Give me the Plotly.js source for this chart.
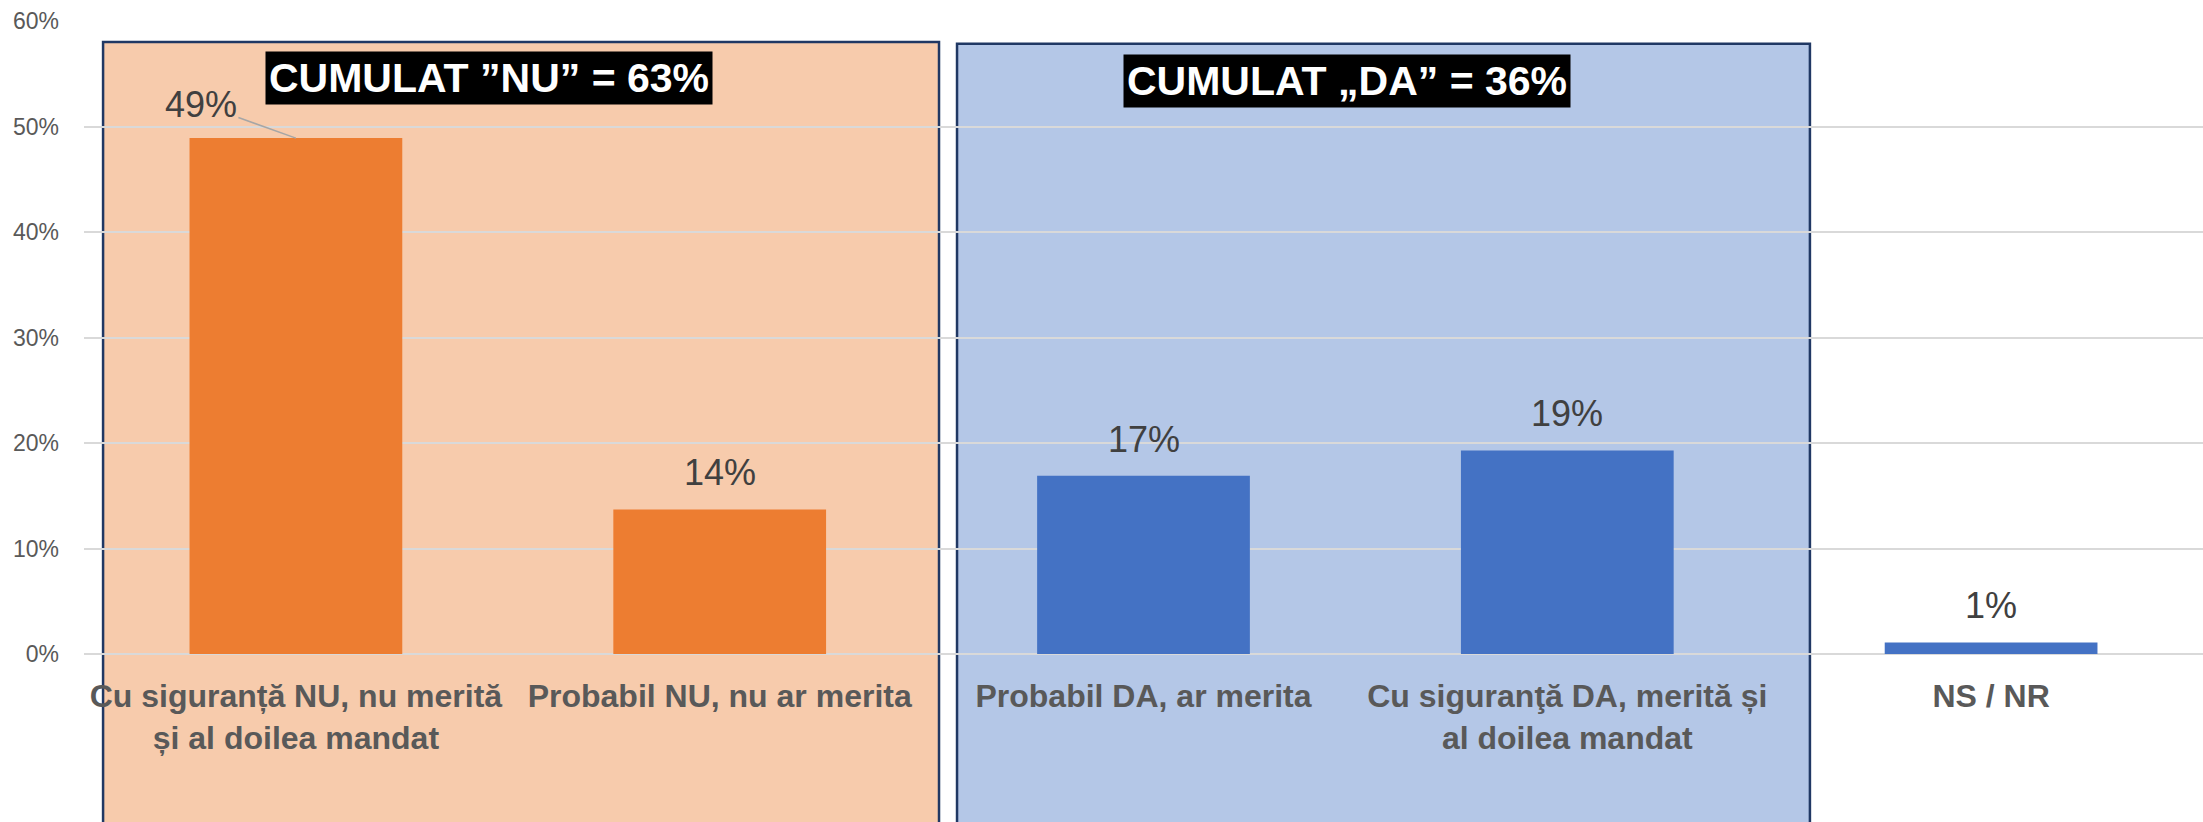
<!DOCTYPE html>
<html><head><meta charset="utf-8">
<script src="https://cdn.plot.ly/plotly-3.0.1.min.js"></script>
<style>html,body{margin:0;padding:0;background:#fff}</style>
</head><body>
<div id="chart" style="width:2203px;height:822px"></div>
<script>
// ---- data ----
const categories = [
  "Cu siguranță NU, nu merită<br>și al doilea mandat",
  "Probabil NU, nu ar merita",
  "Probabil DA, ar merita",
  "Cu siguranţă DA, merită și<br>al doilea mandat",
  "NS / NR"
];
const values = [48.9, 13.7, 16.9, 19.3, 1.1];
const valueLabels = ["49%", "14%", "17%", "19%", "1%"];
const yTickVals = [0, 10, 20, 30, 40, 50, 60];
const yTickText = ["0%", "10%", "20%", "30%", "40%", "50%", "60%"];
const cumulNoText = "CUMULAT ”NU” = 63%";
const cumulYesText = "CUMULAT „DA” = 36%";

// ---- style ----
const FONT = "'Liberation Sans', Arial, sans-serif";
const barColors = ["#ED7D31", "#ED7D31", "#4472C4", "#4472C4", "#4472C4"];

const trace = {
  type: "bar",
  x: categories,
  y: values,
  marker: { color: barColors },
  hoverinfo: "skip"
};

const annotations = [];
categories.forEach((c, i) => {
  if (i === 0) {
    annotations.push({
      x: c, y: values[i], xref: "x", yref: "y",
      text: valueLabels[i], showarrow: true, arrowhead: 0,
      arrowcolor: "#A6A6A6", arrowwidth: 1.5,
      ax: -95, ay: -34, standoff: 0,
      font: { family: FONT, size: 36, color: "#404040" }
    });
  } else {
    annotations.push({
      x: c, y: values[i], xref: "x", yref: "y",
      text: valueLabels[i], showarrow: false,
      yanchor: "bottom", yshift: 14,
      font: { family: FONT, size: 36, color: "#404040" }
    });
  }
});
annotations.push({
  xref: "paper", yref: "paper", x: 0.1909, y: 0.9107,
  xanchor: "center", yanchor: "middle",
  text: "<b>" + cumulNoText + "</b>", showarrow: false,
  bgcolor: "#000000", borderpad: 3,
  font: { family: FONT, size: 41, color: "#FFFFFF" }
});
annotations.push({
  xref: "paper", yref: "paper", x: 0.5958, y: 0.906,
  xanchor: "center", yanchor: "middle",
  text: "<b>" + cumulYesText + "</b>", showarrow: false,
  bgcolor: "#000000", borderpad: 3,
  font: { family: FONT, size: 41, color: "#FFFFFF" }
});

const shapes = [
  { type: "rect", xref: "paper", yref: "paper", x0: 0.009, x1: 0.4035, y0: -0.45, y1: 0.967,
    fillcolor: "#F7CBAC", line: { color: "#203864", width: 2.5 }, layer: "below" },
  { type: "rect", xref: "paper", yref: "paper", x0: 0.412, x1: 0.8145, y0: -0.45, y1: 0.964,
    fillcolor: "#B4C7E7", line: { color: "#203864", width: 2.5 }, layer: "below" }
];

const layout = {
  width: 2203, height: 822,
  margin: { l: 84, r: 0, t: 21, b: 168 },
  paper_bgcolor: "#FFFFFF",
  plot_bgcolor: "rgba(0,0,0,0)",
  bargap: 0.498,
  showlegend: false,
  xaxis: {
    type: "category",
    showgrid: false, showline: false, zeroline: false, ticks: "",
    ticklabelstandoff: 20,
    tickfont: { family: FONT, size: 32, color: "#595959", weight: "bold" }
  },
  yaxis: {
    range: [0, 60], tickvals: yTickVals, ticktext: yTickText,
    showgrid: true, gridcolor: "#D9D9D9", gridwidth: 2,
    zeroline: true, zerolinecolor: "#D9D9D9", zerolinewidth: 2,
    showline: false, ticks: "",
    ticklabelstandoff: 24,
    tickfont: { family: FONT, size: 23, color: "#595959" }
  },
  shapes: shapes,
  annotations: annotations
};

Plotly.newPlot("chart", [trace], layout, { displayModeBar: false, staticPlot: true });
</script>
</body></html>
